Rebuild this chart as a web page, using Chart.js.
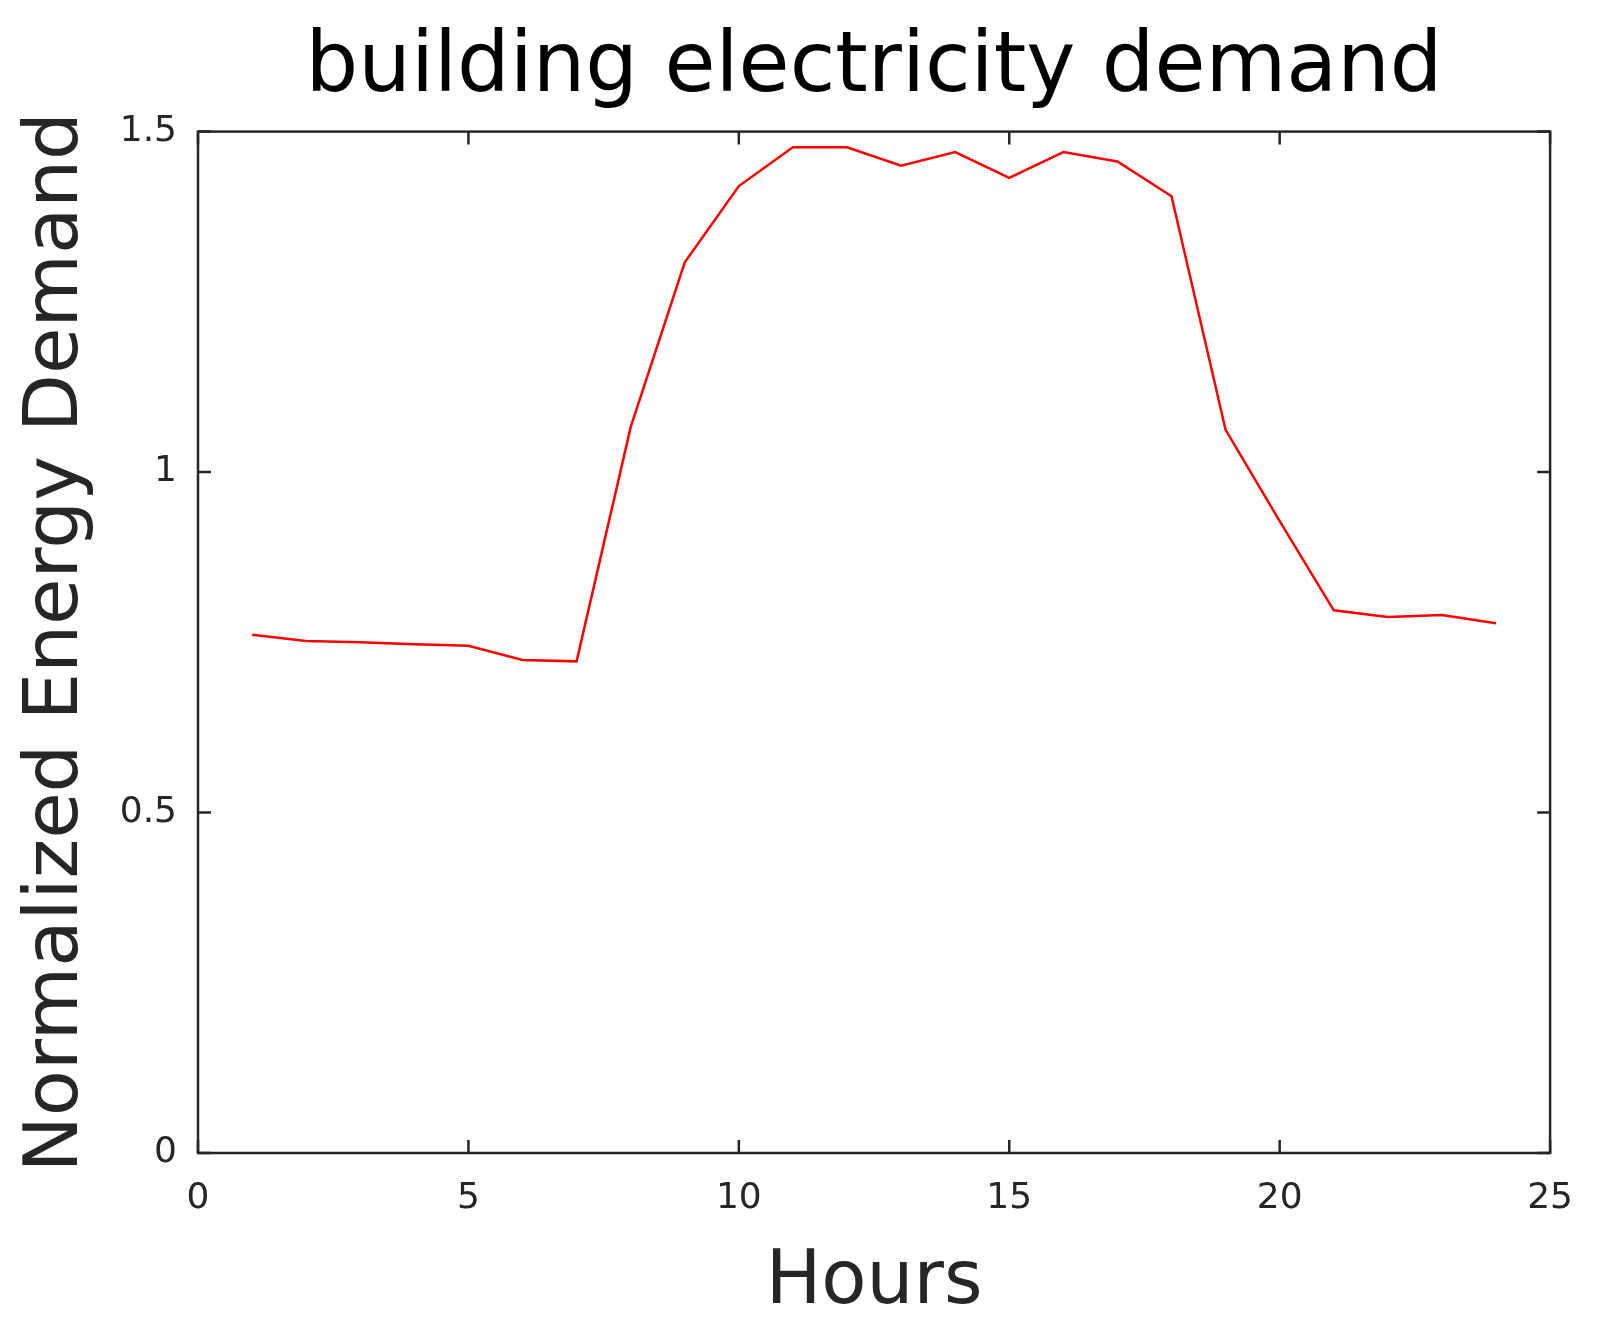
<!DOCTYPE html>
<html>
<head>
<meta charset="utf-8">
<title>building electricity demand</title>
<script src="https://cdn.jsdelivr.net/npm/chart.js@4.4.1/dist/chart.umd.min.js"></script>
<style>
  html, body { margin: 0; padding: 0; background: #fff; }
  canvas { display: block; }
</style>
</head>
<body>
<canvas id="chart" width="1597" height="1328"></canvas>
<script>
// hourly values
const hours = [1, 2, 3, 4, 5, 6, 7, 8, 9, 10, 11, 12, 13, 14, 15, 16, 17, 18, 19, 20, 21, 22, 23, 24];
const demand = [0.761, 0.752, 0.750, 0.747, 0.745, 0.724, 0.722, 1.066, 1.308, 1.420, 1.477, 1.477,
  1.450, 1.470, 1.432, 1.470, 1.456, 1.405, 1.062, 0.928, 0.797, 0.787, 0.790, 0.778];
const xTicks = [0, 5, 10, 15, 20, 25];
const yTicks = [0, 0.5, 1, 1.5];

const axisColor = '#262626';
const FONT = '"DejaVu Sans", sans-serif';

// matlab-style box with ticks pointing inward on all four sides
const boxTicks = {
  id: 'boxTicks',
  afterLayout(chart) {
    // centre the title over the plot box, not the whole canvas
    const tb = chart.titleBlock;
    if (tb) {
      tb.left = chart.chartArea.left;
      tb.right = chart.chartArea.right;
      tb.width = tb.right - tb.left;
    }
  },
  afterDraw(chart) {
    const {ctx, chartArea: a, scales: {x, y}} = chart;
    const len = 13;
    ctx.save();
    ctx.strokeStyle = axisColor;
    ctx.lineWidth = 2.5;
    ctx.beginPath();
    xTicks.forEach(v => {
      const px = x.getPixelForValue(v);
      ctx.moveTo(px, a.bottom); ctx.lineTo(px, a.bottom - len);
      ctx.moveTo(px, a.top); ctx.lineTo(px, a.top + len);
    });
    yTicks.forEach(v => {
      const py = y.getPixelForValue(v);
      ctx.moveTo(a.left, py); ctx.lineTo(a.left + len, py);
      ctx.moveTo(a.right, py); ctx.lineTo(a.right - len, py);
    });
    ctx.stroke();
    ctx.strokeRect(a.left, a.top, a.right - a.left, a.bottom - a.top);
    ctx.restore();
  }
};

new Chart(document.getElementById('chart'), {
  type: 'line',
  data: {
    datasets: [{
      label: 'demand',
      data: hours.map((h, i) => ({x: h, y: demand[i]})),
      borderColor: '#ff0000',
      borderWidth: 2.5,
      pointRadius: 0,
      fill: false,
      tension: 0
    }]
  },
  options: {
    responsive: false,
    animation: false,
    devicePixelRatio: 1,
    layout: { padding: { left: 0, right: 46, top: 0, bottom: 0 } },
    plugins: {
      legend: { display: false },
      tooltip: { enabled: false },
      title: {
        display: true,
        text: 'building electricity demand',
        color: '#000',
        font: { family: FONT, size: 83, weight: 'normal' },
        padding: { top: 20, bottom: 12 }
      }
    },
    scales: {
      x: {
        type: 'linear',
        min: 0,
        max: 25,
        afterFit(scale) { scale.height = 175; },
        afterBuildTicks(scale) { scale.ticks = xTicks.map(v => ({value: v})); },
        grid: { display: false, drawTicks: false },
        border: { display: false },
        ticks: {
          color: axisColor,
          padding: 24,
          font: { family: FONT, size: 36 },
          callback: v => String(v)
        },
        title: {
          display: true,
          text: 'Hours',
          color: axisColor,
          font: { family: FONT, size: 74 },
          padding: { top: 8, bottom: 0 }
        }
      },
      y: {
        min: 0,
        max: 1.5,
        afterFit(scale) { scale.width = 198; },
        afterBuildTicks(scale) { scale.ticks = yTicks.map(v => ({value: v})); },
        grid: { display: false, drawTicks: false },
        border: { display: false },
        ticks: {
          color: axisColor,
          padding: 21,
          font: { family: FONT, size: 36 },
          callback: v => String(v)
        },
        title: {
          display: true,
          text: 'Normalized Energy Demand',
          color: axisColor,
          font: { family: FONT, size: 75.5 },
          padding: { top: 12, bottom: 0 }
        }
      }
    }
  },
  plugins: [boxTicks]
});
</script>
</body>
</html>
